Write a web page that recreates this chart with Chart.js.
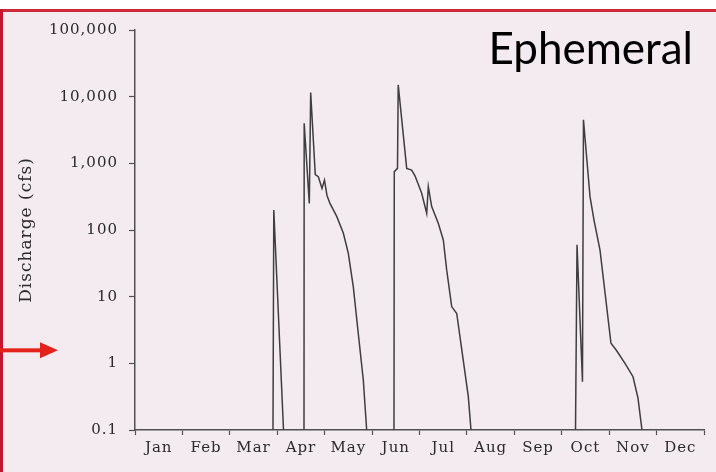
<!DOCTYPE html>
<html><head><meta charset="utf-8">
<script src="https://cdn.jsdelivr.net/npm/chart.js@4"></script>
<style>html,body{margin:0;padding:0;background:#fff;}canvas{display:block;}</style>
</head><body>
<canvas id="c" width="716" height="472"></canvas>
<script>
// ---- data (x in months from 1 Jan, y = discharge in cfs) ----
const months = ['Jan','Feb','Mar','Apr','May','Jun','Jul','Aug','Sep','Oct','Nov','Dec'];
const yTickValues = [0.1, 1, 10, 100, 1000, 10000, 100000];
const yTickLabels = ['0.1', '1', '10', '100', '1,000', '10,000', '100,000'];

const marchX = [2.910, 2.927, 3.132];
const marchQ = [0.1, 200, 0.1];

const aprilX = [3.564, 3.568, 3.676, 3.705, 3.802, 3.866, 3.944, 3.996, 4.049, 4.112, 4.254, 4.393, 4.498, 4.604, 4.709, 4.815, 4.886];
const aprilQ = [0.1, 4000, 250, 11500, 680, 630, 420, 560, 330, 250, 160, 90, 45, 14, 2.8, 0.56, 0.1];

const juneX = [5.462, 5.468, 5.536, 5.551, 5.730, 5.835, 5.905, 6.046, 6.152, 6.186, 6.257, 6.396, 6.502, 6.574, 6.679, 6.785, 6.924, 7.029, 7.086];
const juneQ = [0.1, 750, 840, 15000, 840, 790, 650, 355, 178, 447, 224, 126, 71, 25, 7.1, 5.6, 1.1, 0.32, 0.1];

const octX = [9.290, 9.322, 9.437, 9.458, 9.596, 9.680, 9.807, 10.038, 10.144, 10.334, 10.503, 10.608, 10.692];
const octQ = [0.1, 60, 0.53, 4500, 316, 141, 50, 2.0, 1.6, 1.0, 0.63, 0.3, 0.1];

const titleText = 'Ephemeral';
const yTitle = 'Discharge (cfs)';

// ---- chart ----
const toPts = (xs, qs) => xs.map((x, i) => ({x: x, y: qs[i]}));
const lineStyle = {borderColor: '#3e3e3e', borderWidth: 1.5, pointRadius: 0, tension: 0, fill: false};
const events = [[marchX, marchQ], [aprilX, aprilQ], [juneX, juneQ], [octX, octQ]];

const axisColor = '#505050';
const labelFont = {family: 'DejaVu Serif', size: 15};

const bgPlugin = {
  id: 'bg',
  beforeDraw(chart) {
    const c = chart.ctx, W = chart.width, H = chart.height;
    c.save();
    c.fillStyle = '#ffffff'; c.fillRect(0, 0, W, H);
    c.fillStyle = '#f3ebf0'; c.fillRect(0, 10, W, H - 10);
    c.fillStyle = '#cc2a3c'; c.fillRect(0, 9, W, 3);
    c.fillStyle = '#c4162c'; c.fillRect(0, 9, 3, H - 9);
    c.restore();
    // slightly spaced lettering for the scanned-looking axis text
    if ('letterSpacing' in c) c.letterSpacing = '1px';
  },
  beforeDatasetsDraw(chart) {
    const c = chart.ctx;
    if ('letterSpacing' in c) c.letterSpacing = '0px';
  }
};

const overlayPlugin = {
  id: 'overlay',
  afterDraw(chart) {
    const c = chart.ctx;
    c.save();
    if ('letterSpacing' in c) c.letterSpacing = '0px';
    // slide title
    c.fillStyle = '#000';
    c.font = '44px Lato';
    c.textAlign = 'right';
    c.textBaseline = 'alphabetic';
    c.fillText(titleText, 693, 64);
    // red arrow pointing at the axis
    const yA = chart.scales.y.getPixelForValue(1) - 13;
    c.fillStyle = '#e3231b';
    c.fillRect(0, yA - 2, 44, 4);
    c.beginPath();
    c.moveTo(40, yA - 8); c.lineTo(58, yA); c.lineTo(40, yA + 8); c.closePath();
    c.fill();
    c.restore();
  }
};

new Chart(document.getElementById('c'), {
  type: 'line',
  data: {
    datasets: events.map(e => Object.assign({data: toPts(e[0], e[1])}, lineStyle))
  },
  options: {
    responsive: false,
    animation: false,
    devicePixelRatio: 1,
    layout: {padding: {top: 30, right: 12, left: 0, bottom: 0}},
    plugins: {legend: {display: false}, tooltip: {enabled: false}, title: {display: false}},
    scales: {
      x: {
        type: 'linear', min: 0, max: 12,
        afterBuildTicks: s => { const t = []; for (let i = 0; i <= 24; i++) t.push({value: i / 2}); s.ticks = t; },
        afterFit: s => { s.height = 42; },
        ticks: {
          autoSkip: false, maxRotation: 0, minRotation: 0, padding: 4,
          color: '#2a2a2a', font: labelFont,
          callback: v => (Math.abs(v % 1 - 0.5) < 1e-6 ? months[Math.floor(v)] : '')
        },
        grid: {
          drawOnChartArea: false, drawTicks: true, tickLength: 5, tickWidth: 1.2,
          tickColor: ctx => (ctx.tick && Math.abs(ctx.tick.value % 1) < 1e-6) ? axisColor : 'rgba(0,0,0,0)'
        },
        border: {display: true, color: axisColor, width: 1.5}
      },
      y: {
        type: 'logarithmic', min: 0.1, max: 100000,
        afterBuildTicks: s => { s.ticks = yTickValues.map(v => ({value: v})); },
        afterFit: s => { s.width = 135; },
        ticks: {
          autoSkip: false, padding: 11, color: '#2a2a2a', font: labelFont,
          callback: (v, i) => yTickLabels[i]
        },
        grid: {drawOnChartArea: false, drawTicks: true, tickLength: 6, tickWidth: 1.2, tickColor: axisColor},
        border: {display: true, color: axisColor, width: 1.5},
        title: {display: true, text: yTitle, color: '#2a2a2a', font: {family: 'DejaVu Serif', size: 17}, padding: {top: 16, bottom: 0}}
      }
    }
  },
  plugins: [bgPlugin, overlayPlugin]
});
</script>
</body></html>
